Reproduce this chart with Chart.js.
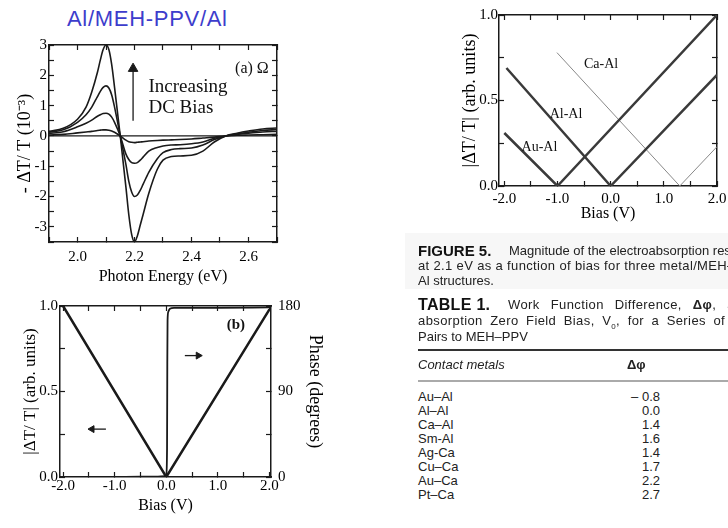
<!DOCTYPE html>
<html>
<head>
<meta charset="utf-8">
<script src="https://cdn.jsdelivr.net/npm/chart.js@4.4.1/dist/chart.umd.min.js"></script>
<style>
  html, body { margin: 0; padding: 0; background: #fff; }
  body { width: 728px; height: 528px; overflow: hidden; position: relative; font-family: "Liberation Sans", Arial, sans-serif; color: #222; }
  canvas { position: absolute; }
  #title { position: absolute; left: 67px; top: 8px; font-size: 22px; line-height: 22px; letter-spacing: 0.7px; color: #3d3dcc; white-space: nowrap; }
  .t { position: absolute; left: 418px; white-space: nowrap; font-size: 13px; line-height: 15px; }
  .heavy { font-weight: 900; font-size: 15px; color: #111; }
  .rule { position: absolute; left: 418px; width: 320px; }
  #rows { position: absolute; left: 418px; top: 390px; font-size: 13px; line-height: 14px; }
  #rows div { position: relative; width: 242px; height: 14px; }
  #rows .v { position: absolute; right: 0; top: 0; }
</style>
</head>
<body>
<div id="title">Al/MEH-PPV/Al</div>
<canvas id="chartA" width="300" height="290" style="left:0;top:0"></canvas>
<canvas id="chartB" width="330" height="243" style="left:0;top:285px"></canvas>
<canvas id="chartC" width="310" height="240" style="left:430px;top:0"></canvas>

<div style="position:absolute;left:405px;top:233px;width:330px;height:56px;background:#f7f7f7"></div>
<div class="t heavy" style="top:243px">FIGURE 5.</div>
<div class="t" style="top:243px;left:509px">Magnitude of the electroabsorption response</div>
<div class="t" style="top:258px;letter-spacing:0.35px">at 2.1 eV as a function of bias for three metal/MEH–PPV/</div>
<div class="t" style="top:273px">Al structures.</div>

<div class="t heavy" style="top:297px;font-size:16px;letter-spacing:0.3px">TABLE 1.</div>
<div class="t" style="top:297px;left:508px;letter-spacing:0.4px;word-spacing:7px">Work Function Difference, <b>Δφ</b>, and Electro-</div>
<div class="t" style="top:313px;letter-spacing:0.4px;word-spacing:3.5px">absorption Zero Field Bias, V<sub style="font-size:8px">0</sub>, for a Series of Metal</div>
<div class="t" style="top:329px">Pairs to MEH–PPV</div>

<div class="rule" style="top:349px;height:2px;background:#333"></div>
<div class="t" style="top:357px;font-style:italic">Contact metals</div>
<div class="t" style="top:357px;left:627px;font-weight:bold">Δφ</div>
<div class="rule" style="top:380px;height:2px;background:#aaa"></div>
<div id="rows"></div>

<script>
// Fig (a): electroabsorption spectra for increasing DC bias
const energy  = [1.90, 1.95, 2.00, 2.03, 2.05, 2.07, 2.08, 2.09, 2.10, 2.11, 2.12, 2.13, 2.15, 2.17, 2.18, 2.19, 2.20, 2.21, 2.22, 2.23, 2.25, 2.28, 2.30, 2.33, 2.36, 2.40, 2.44, 2.48, 2.52, 2.56, 2.60, 2.65, 2.70];
const eaBias1 = [0.03, 0.05, 0.10, 0.13, 0.15, 0.18, 0.19, 0.20, 0.20, 0.19, 0.16, 0.12, 0.00, -0.14, -0.19, -0.21, -0.22, -0.21, -0.20, -0.19, -0.17, -0.15, -0.14, -0.13, -0.12, -0.10, -0.07, -0.04, 0.00, 0.02, 0.03, 0.04, 0.05];
const eaBias2 = [0.08, 0.14, 0.30, 0.42, 0.52, 0.65, 0.70, 0.74, 0.75, 0.72, 0.62, 0.45, 0.00, -0.60, -0.78, -0.88, -0.90, -0.88, -0.80, -0.70, -0.50, -0.38, -0.33, -0.30, -0.29, -0.26, -0.20, -0.08, 0.00, 0.05, 0.09, 0.13, 0.15];
const eaBias3 = [0.12, 0.20, 0.45, 0.70, 0.95, 1.30, 1.47, 1.60, 1.65, 1.58, 1.35, 0.95, 0.00, -0.95, -1.50, -1.85, -2.00, -1.95, -1.80, -1.60, -1.20, -0.75, -0.55, -0.45, -0.42, -0.40, -0.30, -0.12, 0.00, 0.07, 0.12, 0.18, 0.21];
const eaBias4 = [0.15, 0.25, 0.55, 0.95, 1.45, 2.10, 2.50, 2.85, 3.00, 2.85, 2.35, 1.60, 0.00, -1.70, -2.60, -3.25, -3.50, -3.30, -2.95, -2.60, -1.90, -1.10, -0.80, -0.68, -0.66, -0.64, -0.50, -0.20, 0.00, 0.09, 0.16, 0.23, 0.26];
const zeroLineE = [1.9, 2.7];
const biasArrowE = [2.195, 2.195];
const biasArrowY = [0.5, 2.22];

// Fig (b): Al/MEH-PPV/Al magnitude and phase vs bias
const biasB  = [-2.0, 0.0, 2.0];
const magB   = [1.0, 0.0, 0.98];
const phaseBias = [-2.0, -1.0, -0.2, -0.02, 0.0, 0.015, 0.02, 0.025, 0.04, 0.07, 0.15, 1.0, 2.0];
const phaseDeg  = [0, 0, 0.5, 1, 2, 30, 120, 165, 174, 177, 178, 178, 178.5];

// Fig 5: magnitude vs bias for three metal pairs
const auAlBias = [-2.0, -1.0, 2.0],  auAlMag = [0.31, 0.0, 1.0];
const alAlBias = [-1.96, 0.0, 2.0],  alAlMag = [0.69, 0.0, 0.65];
const caAlBias = [-1.01, 1.3, 2.0],  caAlMag = [0.78, 0.0, 0.23];

// Table 1
const contactMetals = ['Au–Al', 'Al–Al', 'Ca–Al', 'Sm-Al', 'Ag-Ca', 'Cu–Ca', 'Au–Ca', 'Pt–Ca'];
const workFnDiff    = [-0.8, 0.0, 1.4, 1.6, 1.4, 1.7, 2.2, 2.7];

const rows = document.getElementById('rows');
contactMetals.forEach((m, i) => {
  const d = workFnDiff[i];
  const row = document.createElement('div');
  row.innerHTML = '<span>' + m + '</span><span class="v">' + (d < 0 ? '– ' + Math.abs(d).toFixed(1) : d.toFixed(1)) + '</span>';
  rows.appendChild(row);
});

const serif = '"Liberation Serif", "Times New Roman", serif';
const ink = '#1a1a1a';
const pts = (xs, ys) => xs.map((x, i) => ({ x: x, y: ys[i] }));
const wholeLabel = v => Math.abs(v - Math.round(v)) < 1e-6 ? String(Math.round(v)) : '';
const wholeFixed = v => Math.abs(v - Math.round(v)) < 1e-6 ? (Math.abs(v) < 1e-9 ? 0 : v).toFixed(1) : '';
const halfFixed = v => Math.abs(v * 2 - Math.round(v * 2)) < 1e-6 ? (Math.abs(v) < 1e-9 ? 0 : v).toFixed(1) : '';

function axis(o) {
  return {
    type: 'linear', position: o.position, min: o.min, max: o.max,
    border: { display: true, color: ink, width: 1.5 },
    grid: { display: true, drawOnChartArea: false, drawTicks: true, tickLength: -5, color: ink, tickColor: ink, tickWidth: 1.2 },
    ticks: {
      display: !!o.label, stepSize: o.step, includeBounds: false, autoSkip: false, maxRotation: 0,
      padding: o.pad || 6, color: '#000', font: { family: serif, size: 15 },
      callback: o.label || (() => '')
    },
    title: o.title
      ? { display: true, text: o.title, color: '#000', font: { family: serif, size: o.titleSize || 16 }, padding: o.titlePad }
      : { display: false },
    afterFit: s => { if (s.isHorizontal()) s.height = o.size; else s.width = o.size; }
  };
}

function line(xs, ys, width, color, extra) {
  return Object.assign({
    data: pts(xs, ys), borderColor: color || ink, borderWidth: width,
    pointRadius: 0, fill: false, tension: 0
  }, extra || {});
}

function arrow(xs, ys, rotation, size) {
  return line(xs, ys, 1.3, ink, {
    pointRadius: [0, size], pointStyle: 'triangle', pointRotation: rotation,
    pointBackgroundColor: ink, pointBorderColor: ink, pointBorderWidth: 1
  });
}

// writes annotation text at data coordinates
const textMarks = {
  id: 'textMarks',
  afterDatasetsDraw(chart, args, opts) {
    const ctx = chart.ctx;
    ctx.save();
    (opts.items || []).forEach(it => {
      ctx.font = it.font;
      ctx.fillStyle = '#111';
      ctx.textAlign = it.align || 'center';
      ctx.textBaseline = 'middle';
      ctx.fillText(it.text, chart.scales.x.getPixelForValue(it.x), chart.scales.y.getPixelForValue(it.y));
    });
    ctx.restore();
  }
};

const common = {
  responsive: false, animation: false, events: [],
  layout: { padding: 0 }
};
const smooth = { cubicInterpolationMode: 'monotone' };

const chartA = new Chart('chartA', {
  type: 'line',
  data: {
    datasets: [
      line(zeroLineE, [0, 0], 1.3),
      line(energy, eaBias1, 1.6, ink, smooth),
      line(energy, eaBias2, 1.6, ink, smooth),
      line(energy, eaBias3, 1.6, ink, smooth),
      line(energy, eaBias4, 1.6, ink, smooth),
      arrow(biasArrowE, biasArrowY, 0, 5.5)
    ]
  },
  options: Object.assign({}, common, {
    scales: {
      x: axis({ position: 'bottom', min: 1.9, max: 2.7, step: 0.1, size: 48, pad: 11,
        label: v => Math.round(v * 10) % 2 === 0 ? v.toFixed(1) : '',
        title: 'Photon Energy (eV)', titlePad: { top: 0, bottom: 4 } }),
      x2: axis({ position: 'top', min: 1.9, max: 2.7, step: 0.1, size: 45 }),
      y: axis({ position: 'left', min: -3.5, max: 3, step: 0.5, size: 49, pad: 7, label: wholeLabel,
        title: '- ΔT/ T (10⁻³)', titleSize: 18, titlePad: { top: 14, bottom: 0 } }),
      y2: axis({ position: 'right', min: -3.5, max: 3, step: 0.5, size: 23 })
    },
    plugins: {
      legend: { display: false }, tooltip: { enabled: false },
      textMarks: { items: [
        { text: '(a) Ω', x: 2.612, y: 2.23, font: '16px ' + serif },
        { text: 'Increasing', x: 2.249, y: 1.6, align: 'left', font: '19px ' + serif },
        { text: 'DC Bias', x: 2.249, y: 0.91, align: 'left', font: '19px ' + serif }
      ] }
    }
  }),
  plugins: [textMarks]
});

const chartB = new Chart('chartB', {
  type: 'line',
  data: {
    datasets: [
      line(biasB, magB, 2.5),
      line(phaseBias, phaseDeg, 1.8, ink, Object.assign({ yAxisID: 'y2' }, smooth)),
      arrow([-1.17, -1.44], [0.28, 0.28], -90, 4),
      arrow([0.36, 0.62], [0.71, 0.71], 90, 4)
    ]
  },
  options: Object.assign({}, common, {
    scales: {
      x: axis({ position: 'bottom', min: -2.06, max: 2.03, step: 0.5, size: 51, pad: 5, label: wholeFixed,
        title: 'Bias (V)', titlePad: { top: 0, bottom: 13 } }),
      x2: axis({ position: 'top', min: -2.06, max: 2.03, step: 0.5, size: 15 }),
      y: axis({ position: 'left', min: 0, max: 1, step: 0.25, size: 60, pad: 7, label: halfFixed,
        title: '|ΔT/ T| (arb. units)', titleSize: 17, titlePad: { top: 20, bottom: 0 } }),
      y2: axis({ position: 'right', min: 0, max: 180, step: 45, size: 59, pad: 12,
        label: v => v % 90 === 0 ? String(v) : '',
        title: 'Phase (degrees)', titleSize: 18, titlePad: { top: 4, bottom: 0 } })
    },
    plugins: {
      legend: { display: false }, tooltip: { enabled: false },
      textMarks: { items: [
        { text: '(b)', x: 1.35, y: 0.89, font: 'bold 15px ' + serif }
      ] }
    }
  }),
  plugins: [textMarks]
});

const chartC = new Chart('chartC', {
  type: 'line',
  data: {
    datasets: [
      line(auAlBias, auAlMag, 2.5, '#3a3a3a'),
      line(alAlBias, alAlMag, 2.5, '#3a3a3a'),
      line(caAlBias, caAlMag, 1, '#888')
    ]
  },
  options: Object.assign({}, common, {
    scales: {
      x: axis({ position: 'bottom', min: -2.1, max: 2.0, step: 0.5, size: 54, pad: 9, label: wholeFixed,
        title: 'Bias (V)', titlePad: { top: 0, bottom: 17 } }),
      x2: axis({ position: 'top', min: -2.1, max: 2.0, step: 0.5, size: 12 }),
      y: axis({ position: 'left', min: 0, max: 1, step: 0.25, size: 69, pad: 6, label: halfFixed,
        title: '|ΔT/ T| (arb. units)', titleSize: 18, titlePad: { top: 29, bottom: 0 } }),
      y2: axis({ position: 'right', min: 0, max: 1, step: 0.25, size: 23 })
    },
    plugins: {
      legend: { display: false }, tooltip: { enabled: false },
      textMarks: { items: [
        { text: 'Ca-Al', x: -0.18, y: 0.71, font: '14px ' + serif },
        { text: 'Al-Al', x: -0.84, y: 0.42, font: '14px ' + serif },
        { text: 'Au-Al', x: -1.34, y: 0.227, font: '14px ' + serif }
      ] }
    }
  }),
  plugins: [textMarks]
});
</script>
</body>
</html>
